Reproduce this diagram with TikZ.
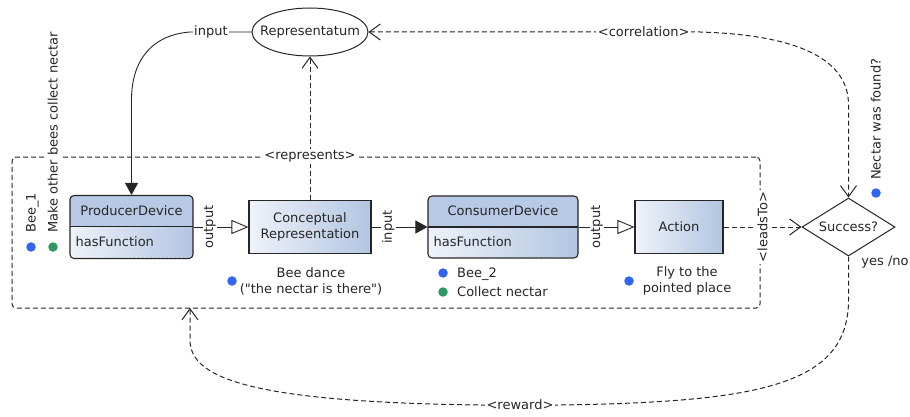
\documentclass[tikz,border=0pt]{standalone}
\usepackage{fontspec}
\setmainfont{DejaVu Sans}
\usetikzlibrary{arrows.meta,shapes.geometric,calc}
\definecolor{ink}{HTML}{262626}
\definecolor{hdrblue}{HTML}{B7C9E4}
\definecolor{lightblue}{HTML}{EEF2F9}
\definecolor{midblue}{HTML}{B3C6E2}
\definecolor{dotblue}{HTML}{3366F0}
\definecolor{dotgreen}{HTML}{2E9A62}
\begin{document}
\begin{tikzpicture}[x=1pt,y=-1pt,
  font=\fontsize{13}{16}\selectfont,
  every node/.style={text=ink},
  link/.style={draw=ink, line width=0.9pt},
  dashlink/.style={link, line width=1pt, dash pattern=on 5pt off 3pt},
  filltip/.style={-{Triangle[length=12pt,width=13pt]}},
  opentip/.style={-{Triangle[open,length=17pt,width=14pt,fill=white]}},
  barbtip/.style={-{Straight Barb[length=11pt,width=16pt]}},
  lbl/.style={fill=white, inner sep=1.5pt},
  rlbl/.style={lbl, rotate=90},
  % horizontal light-to-blue gradient, built from thin strips
  gradfill/.code={%
    \foreach \i in {0,...,29}{%
      \pgfmathsetmacro\mix{\i*100/29}%
      \fill[midblue!\mix!lightblue]
        ($(path picture bounding box.south west)!{\i/30}!(path picture bounding box.south east)$)
        rectangle
        ($(path picture bounding box.north west)!{(\i+1.4)/30}!(path picture bounding box.north east)$);
    }},
  devbox/.style={draw=ink, line width=1.1pt, rounded corners=4pt, inner sep=0,
    path picture={
      \tikzset{gradfill}
      \fill[hdrblue] (path picture bounding box.north west) rectangle
        ([yshift=-31pt]path picture bounding box.north east);
      \draw[ink, line width=1.1pt] ([yshift=-31pt]path picture bounding box.north west)
        -- ([yshift=-31pt]path picture bounding box.north east);}},
  plainbox/.style={draw=ink, line width=1.1pt, inner sep=0, align=center,
    path picture={\tikzset{gradfill}}},
  note/.style={inner sep=0},
  dot/.style={circle, inner sep=0, minimum size=9.5pt, fill=#1},
]
\useasboundingbox (0,0) rectangle (910,417);
\fill[white] (0,0) rectangle (910,417);

% system boundary
\node[draw=ink, line width=1pt, dash pattern=on 5pt off 3pt, rounded corners=4pt,
  minimum width=748pt, minimum height=151pt, inner sep=0] (sys) at (386,232.5) {};
\coordinate (rwend) at (190,308);

% representatum
\node[ellipse, draw=ink, line width=1pt, fill=white, minimum width=116pt,
  minimum height=48pt, inner sep=0] (repr) at (310,32) {\makebox[0pt]{Representatum}};

% devices and representations
\node[devbox, minimum width=123pt, minimum height=63pt] (producer) at (131.5,227) {};
\node (prodname) at ([yshift=-16pt]producer.north) {ProducerDevice};
\node[note, anchor=west] (prodfn) at ([xshift=6pt,yshift=-47pt]producer.north west) {hasFunction};

\node[plainbox, minimum width=122pt, minimum height=53pt] (concept) at (310,227)
  {Conceptual\\Representation};

\node[devbox, minimum width=150pt, minimum height=62pt] (consumer) at (503,227) {};
\node (consname) at ([yshift=-15.5pt]consumer.north) {ConsumerDevice};
\node[note, anchor=west] (consfn) at ([xshift=6pt,yshift=-46pt]consumer.north west) {hasFunction};

\node[plainbox, minimum width=88pt, minimum height=53pt] (action) at (679,227) {Action};

\node[diamond, draw=ink, line width=1pt, fill=white, aspect=1.6, minimum width=93pt,
  minimum height=58pt, inner sep=0] (success) at (848.5,227) {Success?};

% connectors
\draw[link, filltip] (repr.west) -- node[lbl, pos=0.66]{input} (190,32)
  .. controls (152,35) and (131.5,60) .. (131.5,100) -- (producer.north);
\draw[dashlink, barbtip] (concept.north) -- node[lbl, pos=0.303]{<represents>} (repr.south);
\draw[link, opentip] (producer.east) -- node[rlbl, pos=0.3]{output} (concept.west);
\draw[link, filltip] (concept.east) -- node[rlbl, pos=0.3]{input} (consumer.west);
\draw[link, opentip] (consumer.east) -- node[rlbl, pos=0.33]{output} (action.west);
\draw[dashlink, barbtip] (action.east) -- node[rlbl, pos=0.5]{<leadsTo>} (success.west);
\draw[dashlink, {Straight Barb[length=11pt,width=16pt]}-{Straight Barb[length=11pt,width=16pt]}]
  (repr.east) -- node[lbl, pos=0.83]{<correlation>} (700,32)
  .. controls (800,35) and (848.5,60) .. (848.5,105) -- (success.north);
\draw[dashlink, barbtip] (success.south) -- (848.5,300)
  .. controls (848.5,385) and (760,402) .. (560,405)
  -- node[lbl]{<reward>} (480,405)
  .. controls (250,402) and (190,378) .. (190,340) -- (rwend);

% annotations
\node[dot=dotblue] (d1) at (31,247) {};
\node[note, rotate=90, anchor=base west] (bee1) at (35.5,233) {Bee\_1};
\node[dot=dotgreen] (d2) at (53,247) {};
\node[note, rotate=90, anchor=base west, fill=white, inner ysep=3pt] (makebees)
  at (57.5,233) {Make other bees collect nectar};

\node[dot=dotblue] (d3) at (232,281) {};
\node[note, align=center] (dance) at (311,281)
  {Bee dance\\(\textquotedbl the nectar is there\textquotedbl)};

\node[dot=dotblue] (d4) at (443,273) {};
\node[note, anchor=base west] (bee2) at (457,277.7) {Bee\_2};
\node[dot=dotgreen] (d5) at (443,292) {};
\node[note, anchor=base west] (collect) at (457,296.7) {Collect nectar};

\node[dot=dotblue] (d6) at (629,281) {};
\node[note, align=center] (fly) at (687,281) {Fly to the\\pointed place};

\node[dot=dotblue] (d7) at (876,193) {};
\node[note, rotate=90, anchor=base west] (found) at (880.5,180) {Nectar was found?};
\node[note] (yesno) at (885,262) {yes /no};
\end{tikzpicture}
\end{document}
